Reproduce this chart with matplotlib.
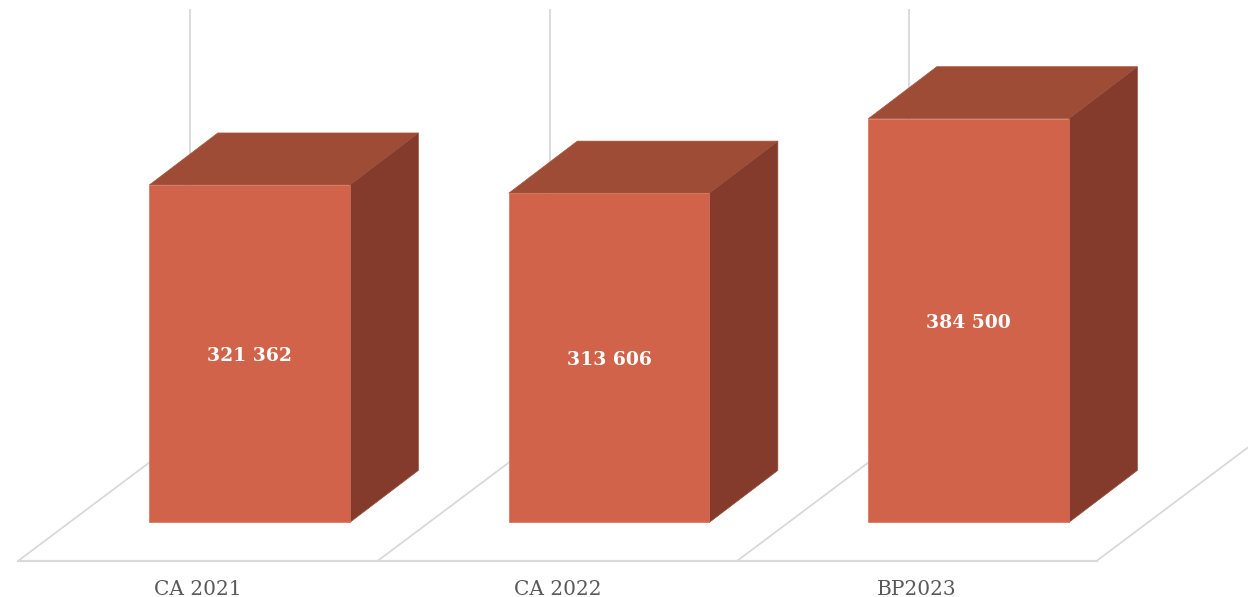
import matplotlib
matplotlib.use("Agg")
import matplotlib.pyplot as plt

categories = ["CA 2021", "CA 2022", "BP2023"]
values = [321362, 313606, 384500]
value_labels = ["321 362", "313 606", "384 500"]

FRONT, TOP, SIDE = "#D06349", "#9F4C36", "#853B2B"
GRID = "#D9D9D9"
W, H = 1248, 597
PX_PER_VALUE = 0.00105          # pixels per value unit
PX_PER_CAT = 359.5              # pixels per category
FLOOR_PX, BASE_PX = 561, 522.4
CENTER_PX = 249.6

bar_w = 200.5 / PX_PER_CAT
dx, dy = 68.5 / PX_PER_CAT, 52 / PX_PER_VALUE          # bar depth
wall_dx, wall_dy = 172 / PX_PER_CAT, 129 / PX_PER_VALUE  # floor depth
floor_v = -(FLOOR_PX - BASE_PX) / PX_PER_VALUE
top_v = BASE_PX / PX_PER_VALUE
grid_top_v = (BASE_PX - 10) / PX_PER_VALUE
cell_left = (18 - CENTER_PX) / PX_PER_CAT

fig = plt.figure(figsize=(W / 100, H / 100), dpi=100, facecolor="white")
ax = fig.add_axes([0, 1 - FLOOR_PX / H, 1, FLOOR_PX / H])
ax.set_xlim(-CENTER_PX / PX_PER_CAT, (W - CENTER_PX) / PX_PER_CAT)
ax.set_ylim(floor_v, top_v)
for s in ax.spines.values():
    s.set_visible(False)
ax.set_yticks([])
pos = list(range(len(categories)))
ax.set_xticks([p + cell_left + 0.5 for p in pos])
ax.set_xticklabels(categories, family=["DejaVu Serif"], fontsize=14.5, color="#595959")
ax.tick_params(axis="x", length=0, pad=13.5)

lw = 1.3
for i in range(len(categories) + 1):
    x0 = cell_left + i
    ax.plot([x0, x0 + wall_dx], [floor_v, floor_v + wall_dy], color=GRID, lw=lw, zorder=1)
    ax.plot([x0 + wall_dx] * 2, [floor_v + wall_dy, grid_top_v], color=GRID, lw=lw, zorder=1)
ax.plot([cell_left, cell_left + len(categories)], [floor_v, floor_v], color=GRID, lw=lw * 1.2,
        zorder=1, clip_on=False)

for p, v, lab in zip(pos, values, value_labels):
    l, r = p - bar_w / 2, p + bar_w / 2
    ax.fill([l, l + dx, r + dx, r], [v, v + dy, v + dy, v], facecolor=TOP, edgecolor="#A9573F", lw=0.5, zorder=2)
    ax.fill([r, r + dx, r + dx, r], [0, dy, v + dy, v], facecolor=SIDE, edgecolor="#96503D", lw=0.5, zorder=2)
    ax.bar(p, v, width=bar_w, color=FRONT, edgecolor="#D4705A", linewidth=0.5, zorder=3)
    ax.annotate(lab, (p, v / 2), xytext=(0, -1.5), textcoords="offset points", ha="center", va="center",
                family="DejaVu Serif", fontweight="bold", fontsize=13.5, color="white", zorder=4)

fig.savefig("out.png", dpi=100, facecolor="white")
